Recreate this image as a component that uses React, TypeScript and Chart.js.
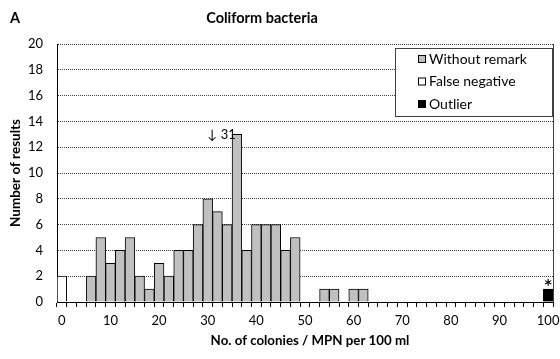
import React, { useEffect, useRef } from 'react';
import { Chart, registerables } from 'chart.js';

Chart.register(...registerables);

const panelLabel = 'A';
const chartTitle = 'Coliform bacteria';
const xTitle = 'No. of colonies / MPN per 100 ml';
const yTitle = 'Number of results';

const categories = [
  '0', '2', '4', '6', '8', '10', '12', '14', '16', '18',
  '20', '22', '24', '26', '28', '30', '32', '34', '36', '38',
  '40', '42', '44', '46', '48', '50', '52', '54', '56', '58',
  '60', '62', '64', '66', '68', '70', '72', '74', '76', '78',
  '80', '82', '84', '86', '88', '90', '92', '94', '96', '98',
  '100',
];

const xTickLabels = ['0', '10', '20', '30', '40', '50', '60', '70', '80', '90', '100'];

const withoutRemark = [
  null, null, null, 2, 5, 3, 4, 5, 2, 1,
  3, 2, 4, 4, 6, 8, 7, 6, 13, 4,
  6, 6, 6, 4, 5, null, null, 1, 1, null,
  1, 1, null, null, null, null, null, null, null, null,
  null, null, null, null, null, null, null, null, null, null,
  null,
];

const falseNegative = [
  2, null, null, null, null, null, null, null, null, null,
  null, null, null, null, null, null, null, null, null, null,
  null, null, null, null, null, null, null, null, null, null,
  null, null, null, null, null, null, null, null, null, null,
  null, null, null, null, null, null, null, null, null, null,
  null,
];

const outlier = [
  null, null, null, null, null, null, null, null, null, null,
  null, null, null, null, null, null, null, null, null, null,
  null, null, null, null, null, null, null, null, null, null,
  null, null, null, null, null, null, null, null, null, null,
  null, null, null, null, null, null, null, null, null, null,
  1,
];

const seriesLabels = ['Without remark', 'False negative', 'Outlier'];
const seriesColors = ['#C0C0C0', '#FFFFFF', '#000000'];

const annotationText = '\u2193 31';
const annotationX = 31; // value on the x axis
const annotationY = 12.95;
const outlierMark = '*';

const FONT = 'Lato, "Noto Sans", sans-serif';

const overlayPlugin = {
  id: 'overlay',
  afterDraw(chart: any) {
    const { ctx, chartArea: a, scales } = chart;
    const x = scales.x;
    const y = scales.y;
    ctx.save();

    // right border of plot
    ctx.strokeStyle = '#404040';
    ctx.lineWidth = 1;
    ctx.setLineDash([]);
    ctx.beginPath();
    ctx.moveTo(Math.round(a.right) + 0.5, a.top);
    ctx.lineTo(Math.round(a.right) + 0.5, a.bottom);
    ctx.stroke();

    ctx.fillStyle = '#000';
    ctx.textBaseline = 'middle';

    // panel label and title
    ctx.font = `bold 14.5px ${FONT}`;
    ctx.textAlign = 'left';
    ctx.fillText(panelLabel, 10, 18);
    ctx.textAlign = 'center';
    ctx.fillText(chartTitle, 262, 18);

    // x title
    ctx.font = `bold 13.3px ${FONT}`;
    ctx.fillText(xTitle, 310, 341);

    // y title
    ctx.save();
    ctx.translate(16, (a.top + a.bottom) / 2);
    ctx.rotate(-Math.PI / 2);
    ctx.font = `bold 13.5px ${FONT}`;
    ctx.fillText(yTitle, 0, 0);
    ctx.restore();

    // annotation: arrow at value 31
    const step = x.getPixelForValue(1) - x.getPixelForValue(0);
    const ax = x.getPixelForValue(0) + step * (annotationX / 2);
    ctx.font = `13px ${FONT}`;
    ctx.textAlign = 'left';
    ctx.fillText(annotationText, ax - 5, y.getPixelForValue(annotationY));

    // asterisk above outlier
    const oi = outlier.findIndex((v) => v != null);
    if (oi >= 0) {
      ctx.font = `bold 14px "DejaVu Sans", sans-serif`;
      ctx.textAlign = 'center';
      ctx.textBaseline = 'alphabetic';
      ctx.fillText(outlierMark, x.getPixelForValue(oi), y.getPixelForValue(outlier[oi] as number) - 0.5);
      ctx.textBaseline = 'middle';
    }

    // legend box
    const bx = 395;
    const by = a.top + 4;
    const bw = a.right - 1 - bx;
    const bh = 68;
    ctx.fillStyle = '#fff';
    ctx.fillRect(bx, by, bw, bh);
    ctx.strokeStyle = '#404040';
    ctx.strokeRect(bx + 0.5, by + 0.5, bw, bh);
    ctx.font = `14px ${FONT}`;
    ctx.textAlign = 'left';
    chart.data.datasets.forEach((ds: any, i: number) => {
      const cy = by + 11 + i * 22.5;
      ctx.fillStyle = ds.backgroundColor;
      ctx.fillRect(418, cy - 4, 8, 8);
      ctx.strokeStyle = '#000';
      ctx.strokeRect(418.5, cy - 3.5, 7, 7);
      ctx.fillStyle = '#000';
      ctx.fillText(ds.label, 429, cy);
    });

    ctx.restore();
  },
};

export default function App() {
  const ref = useRef<HTMLCanvasElement | null>(null);

  useEffect(() => {
    document.body.style.margin = '0';
    if (!ref.current) return;
    const chart = new Chart(ref.current, {
      type: 'bar',
      data: {
        labels: categories,
        datasets: [
          { label: seriesLabels[0], data: withoutRemark, backgroundColor: seriesColors[0], borderColor: '#000', borderWidth: 1 },
          { label: seriesLabels[1], data: falseNegative, backgroundColor: seriesColors[1], borderColor: '#000', borderWidth: 1 },
          { label: seriesLabels[2], data: outlier, backgroundColor: seriesColors[2], borderColor: '#000', borderWidth: 1 },
        ] as any,
      },
      options: {
        animation: false,
        responsive: true,
        maintainAspectRatio: false,
        layout: { padding: { left: 0, top: 44, right: 7, bottom: 0 } },
        datasets: { bar: { barPercentage: 1, categoryPercentage: 1 } },
        plugins: {
          legend: { display: false },
          title: { display: false },
          tooltip: { enabled: false },
        },
        scales: {
          x: {
            stacked: true,
            offset: true,
            grid: { display: true, drawOnChartArea: false, drawTicks: true, tickLength: 5, color: '#000', offset: true },
            border: { display: true, color: '#000', width: 1 },
            ticks: {
              autoSkip: false,
              maxRotation: 0,
              padding: 6,
              color: '#000',
              font: { family: FONT, size: 13 },
              callback: (_v: any, idx: number) => (xTickLabels.includes(categories[idx]) ? categories[idx] : ''),
            },
            afterFit: (s: any) => { s.height = 57; s.paddingLeft = 0; s.paddingRight = 0; },
          },
          y: {
            stacked: true,
            min: 0,
            max: 20,
            ticks: { stepSize: 2, padding: 14, color: '#000', font: { family: FONT, size: 13 } },
            grid: { color: '#404040', drawTicks: false },
            border: { display: true, color: '#000', width: 1, dash: [1, 1] },
            afterFit: (s: any) => { s.width = 57; s.paddingTop = 0; s.paddingBottom = 0; },
          },
        },
      },
      plugins: [overlayPlugin],
    });
    return () => chart.destroy();
  }, []);

  return (
    <div style={{ position: 'relative', width: 560, height: 359 }}>
      <canvas ref={ref} />
    </div>
  );
}
